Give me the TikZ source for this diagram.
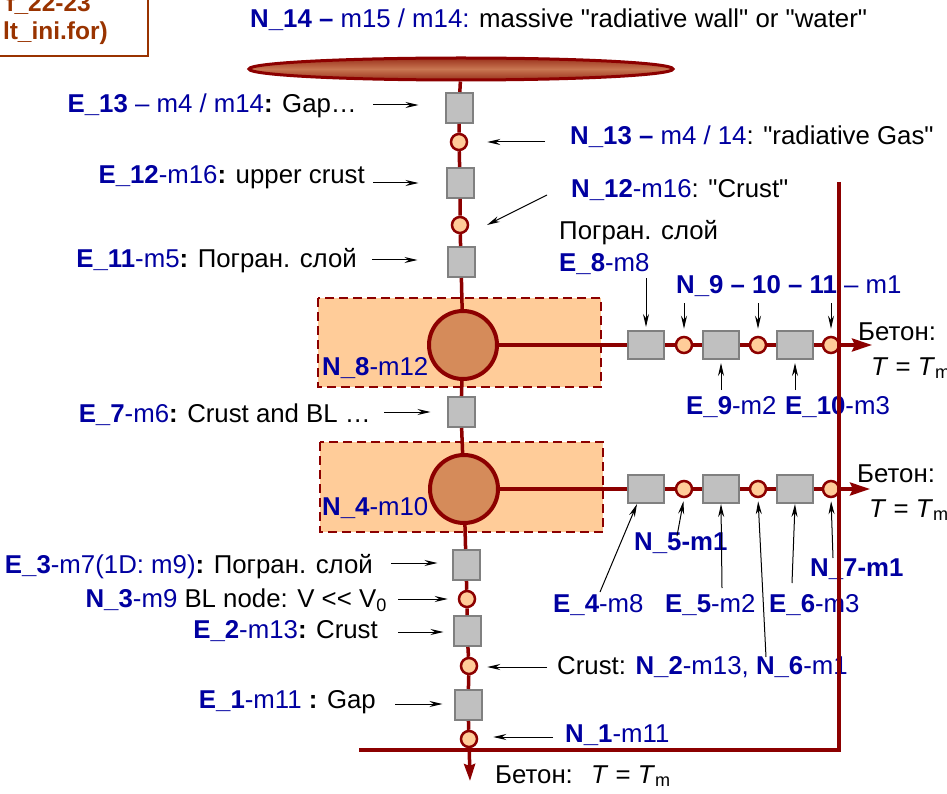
\documentclass[tikz,border=0pt]{standalone}
\usepackage{fontspec}
\setmainfont{Liberation Sans}
\usetikzlibrary{arrows.meta,shapes.geometric}

\definecolor{wallred}{RGB}{140,0,0}
\definecolor{peach}{RGB}{255,204,153}
\definecolor{lumpfill}{RGB}{213,139,90}
\definecolor{elgray}{RGB}{192,192,192}
\definecolor{elborder}{RGB}{128,128,128}
\definecolor{idblue}{RGB}{0,0,160}
\definecolor{filebrown}{RGB}{153,51,0}
\definecolor{poolouter}{RGB}{155,50,28}
\definecolor{poolinner}{RGB}{200,118,82}

\newcommand{\idb}[1]{\textbf{\color{idblue}#1}}
\newcommand{\idr}[1]{{\color{idblue}#1}}
\newcommand{\qq}{\textquotedbl}

\tikzset{
  lbl/.style={inner sep=0pt, font=\fontsize{25.8}{30}\selectfont},
  elem/.style={rectangle, draw=elborder, fill=elgray, line width=2pt,
    minimum width=27pt, minimum height=30pt, inner sep=0pt},
  belem/.style={elem, minimum width=36pt, minimum height=28pt},
  knot/.style={circle, draw=wallred, fill=peach, line width=2.5pt,
    minimum size=16pt, inner sep=0pt},
  bigknot/.style={circle, draw=wallred, fill=lumpfill, line width=4pt,
    minimum size=68pt, inner sep=0pt},
  stem/.style={draw=wallred, line width=3.5pt},
  zone/.style={draw=wallred, fill=peach, line width=2.5pt, dash pattern=on 9pt off 5pt},
  pointer/.style={draw=black, line width=1pt, -{Stealth[length=13pt,width=6pt]}},
  outflow/.style={stem, -{Stealth[length=20pt,width=13pt,inset=3pt]}},
  filetext/.style={anchor=base east, text=filebrown, font=\bfseries\fontsize{24.5}{30}\selectfont},
}

\begin{document}
\begin{tikzpicture}[x=1pt, y=-1pt, every node/.style={lbl}]
\useasboundingbox (0,0) rectangle (947,794);
\clip (0,0) rectangle (947,794);

% file box (cut at the corner)
\draw[filebrown, line width=2pt] (-10,-10) rectangle (148,56);
\node[filetext] (fileA) at (91,12) {f\_22-23};
\node[filetext] (fileB) at (108,40) {lt\_ini.for)};

% layers with lumped nodes
\draw[zone] (318,298) rectangle (601,387);
\draw[zone] (320,442) rectangle (603,532);

% main column
\node[ellipse, draw=wallred, line width=3pt, minimum width=424pt, minimum height=22pt,
  top color=poolouter, bottom color=poolouter, middle color=poolinner] (N14) at (461,69) {};
\node[elem] (E13) at (459,108) {};
\node[knot] (N13) at (459,142) {};
\node[elem] (E12) at (460,183) {};
\node[knot] (N12) at (460,225) {};
\node[elem] (E11) at (461,262) {};
\node[bigknot] (N8) at (463,345) {};
\node[elem] (E7) at (461,412) {};
\node[bigknot] (N4) at (464,489) {};
\node[elem] (E3) at (466,565) {};
\node[knot] (N3) at (467,599) {};
\node[elem] (E2) at (467,631) {};
\node[knot] (N2) at (469,666) {};
\node[elem] (E1) at (468,705) {};
\node[knot] (N1) at (469,739) {};
\coordinate (stemEnd) at (470,781);

\draw[stem] (N14) -- (E13) -- (N13) -- (E12) -- (N12) -- (E11) -- (N8) -- (E7)
  -- (N4) -- (E3) -- (N3) -- (E2) -- (N2) -- (E1) -- (N1);
\draw[stem, -{Stealth[length=17pt,width=11pt,inset=2pt]}] (N1) -- (stemEnd);

% upper branch
\node[belem] (E8) at (646,345) {};
\node[knot] (N9) at (684,345) {};
\node[belem] (E9) at (721,345) {};
\node[knot] (N10) at (758,345) {};
\node[belem] (E10) at (795,345) {};
\node[knot] (N11) at (831,345) {};
\coordinate (outU) at (872,345);
\draw[stem] (N8) -- (E8) -- (N9) -- (E9) -- (N10) -- (E10) -- (N11);
\draw[outflow] (N11) -- (outU);

% lower branch
\node[belem] (E4) at (646,489) {};
\node[knot] (N5) at (684,489) {};
\node[belem] (E5) at (721,489) {};
\node[knot] (N6) at (758,489) {};
\node[belem] (E6) at (795,489) {};
\node[knot] (N7) at (831,489) {};
\coordinate (outL) at (870,489);
\draw[stem] (N4) -- (E4) -- (N5) -- (E5) -- (N6) -- (E6) -- (N7);
\draw[outflow] (N7) -- (outL);

% labels, left
\node[anchor=base east] (lE13) at (357,113) {\idb{E\_13} \idr{– m4 / m14}\textbf{:} Gap…};
\node[anchor=base east] (lE12) at (365,184) {\idb{E\_12}\idr{-m16}\textbf{:} upper crust};
\node[anchor=base east] (lE11) at (357,267) {\idb{E\_11}\idr{-m5}\textbf{:} Погран. слой};
\node[anchor=base east] (lE7) at (371,422) {\idb{E\_7}\idr{-m6}\textbf{:} Crust and BL …};
\node[anchor=base east] (lE3) at (373,573) {\idb{E\_3}\idr{-m7(1D: m9)}\textbf{:} Погран. слой};
\node[anchor=base east] (lN3) at (387,607) {\idb{N\_3}\idr{-m9} BL node: V <\kern0pt< V\textsubscript{0}};
\node[anchor=base east] (lE2) at (378,638) {\idb{E\_2}\idr{-m13}\textbf{:} Crust};
\node[anchor=base east] (lE1) at (376,708) {\idb{E\_1}\idr{-m11} \textbf{:} Gap};

\coordinate (tE13) at (373,105);
\coordinate (tE12) at (373,183);
\coordinate (tE11) at (372,260);
\coordinate (tE7) at (384,412);
\coordinate (tE3) at (391,563);
\coordinate (tN3) at (398,599);
\coordinate (tE2) at (398,632);
\coordinate (tE1) at (395,704);
\draw[pointer, shorten >=26pt] (tE13) -- (tE13 -| E13.west);
\draw[pointer, shorten >=27pt] (tE12) -- (tE12 -| E12.west);
\draw[pointer, shorten >=29pt] (tE11) -- (tE11 -| E11.west);
\draw[pointer, shorten >=16pt] (tE7) -- (tE7 -| E7.west);
\draw[pointer, shorten >=14pt] (tE3) -- (tE3 -| E3.west);
\draw[pointer, shorten >=10pt] (tN3) -- (tN3 -| N3.west);
\draw[pointer, shorten >=9pt] (tE2) -- (tE2 -| E2.west);
\draw[pointer, shorten >=11pt] (tE1) -- (tE1 -| E1.west);

% labels, top and right
\node[anchor=base west] (lN14) at (250,28) {\idb{N\_14 –} \idr{m15 / m14:} massive \qq radiative wall\qq{} or \qq water\qq};
\node[anchor=base west] (lN13) at (570,145) {\idb{N\_13 –} \idr{m4 / 14}: \qq radiative Gas\qq};
\node[anchor=base west] (lN12) at (571,198) {\idb{N\_12}\idr{-m16}: \qq Crust\qq};
\node[anchor=base west] (lPgr) at (559,240) {Погран. слой};
\node[anchor=base west] (lE8) at (559,272) {\idb{E\_8}\idr{-m8}};
\node[anchor=base west] (lN9) at (676,293) {\idb{N\_9 – 10 – 11} \idr{– m1}};
\node[anchor=base west] (lE9) at (686,414) {\idb{E\_9}\idr{-m2}};
\node[anchor=base west] (lE10) at (785,414) {\idb{E\_10}\idr{-m3}};
\node[anchor=base west] (lN8) at (322,375) {\idb{N\_8}\idr{-m12}};
\node[anchor=base west] (lN4) at (322,515) {\idb{N\_4}\idr{-m10}};

\coordinate (tN13) at (545,142);
\coordinate (tN12) at (547,195);
\coordinate (tE8) at (646,278);
\coordinate (tN9) at (684,303);
\coordinate (tN10) at (758,303);
\coordinate (tN11) at (831,303);
\coordinate (tE9) at (721,390);
\coordinate (tE10) at (795,390);
\draw[pointer, shorten >=19pt] (tN13) -- (tN13 -| N13.east);
\draw[pointer] (tN12) -- ([xshift=27pt]N12.center);
\draw[pointer, shorten >=3pt] (tE8) -- (E8.north);
\draw[pointer, shorten >=7pt] (tN9) -- (N9.north);
\draw[pointer, shorten >=7pt] (tN10) -- (N10.north);
\draw[pointer, shorten >=7pt] (tN11) -- (N11.north);
\draw[pointer, shorten >=3pt] (tE9) -- (E9.south);
\draw[pointer, shorten >=3pt] (tE10) -- (E10.south);

% labels, lower right
\node[anchor=base west] (lN5) at (634,550) {\idb{N\_5-m1}};
\node[anchor=base west] (lN7) at (810,576) {\idb{N\_7-m1}};
\node[anchor=base west] (lE4) at (553,612) {\idb{E\_4}\idr{-m8}};
\node[anchor=base west] (lE5) at (665,612) {\idb{E\_5}\idr{-m2}};
\node[anchor=base west] (lE6) at (769,612) {\idb{E\_6}\idr{-m3}};
\node[anchor=base west] (lN2) at (557,674) {Crust: \idb{N\_2}\idr{-m13,} \idb{N\_6}\idr{-m1}};
\node[anchor=base west] (lN1) at (565,742) {\idb{N\_1}\idr{-m11}};

\coordinate (tE4) at (600,592);
\coordinate (tN5) at (677,536);
\coordinate (tE5) at (722,588);
\coordinate (tN6) at (766,657);
\coordinate (tE6) at (792,583);
\coordinate (tN7) at (833,558);
\coordinate (tN2) at (547,667);
\coordinate (tN1) at (553,737);
\draw[pointer] (tE4) -- ([xshift=-9pt]E4.south);
\draw[pointer, shorten >=3pt] (tN5) -- (N5.south);
\draw[pointer] (tE5) -- (E5.south);
\draw[pointer, shorten >=3pt] (tN6) -- (N6.south);
\draw[pointer] (tE6) -- (E6.south);
\draw[pointer, shorten >=3pt] (tN7) -- (N7.south);
\draw[pointer, shorten >=9pt] (tN2) -- (tN2 -| N2.east);
\draw[pointer, shorten >=15pt] (tN1) -- (tN1 -| N1.east);

% concrete boundary
\node[anchor=base west] (lBetonU) at (858,340) {Бетон:};
\node[anchor=base west] (lTmU) at (871,375) {\textit{T} = \textit{T}\textsubscript{m}};
\node[anchor=base west] (lBetonL) at (857,482) {Бетон:};
\node[anchor=base west] (lTmL) at (869,517) {\textit{T} = \textit{T}\textsubscript{m}};
\node[anchor=base west] (lBetonB) at (495,783) {Бетон:};
\node[anchor=base west] (lTmB) at (591,783) {\textit{T} = \textit{T}\textsubscript{m}};

\coordinate (wallTop) at (839,182);
\coordinate (wallCorner) at (839,750);
\coordinate (floorEnd) at (359,750);
\draw[draw=wallred, line width=4pt] (wallTop) -- (wallCorner) -- (floorEnd);

\end{tikzpicture}
\end{document}
